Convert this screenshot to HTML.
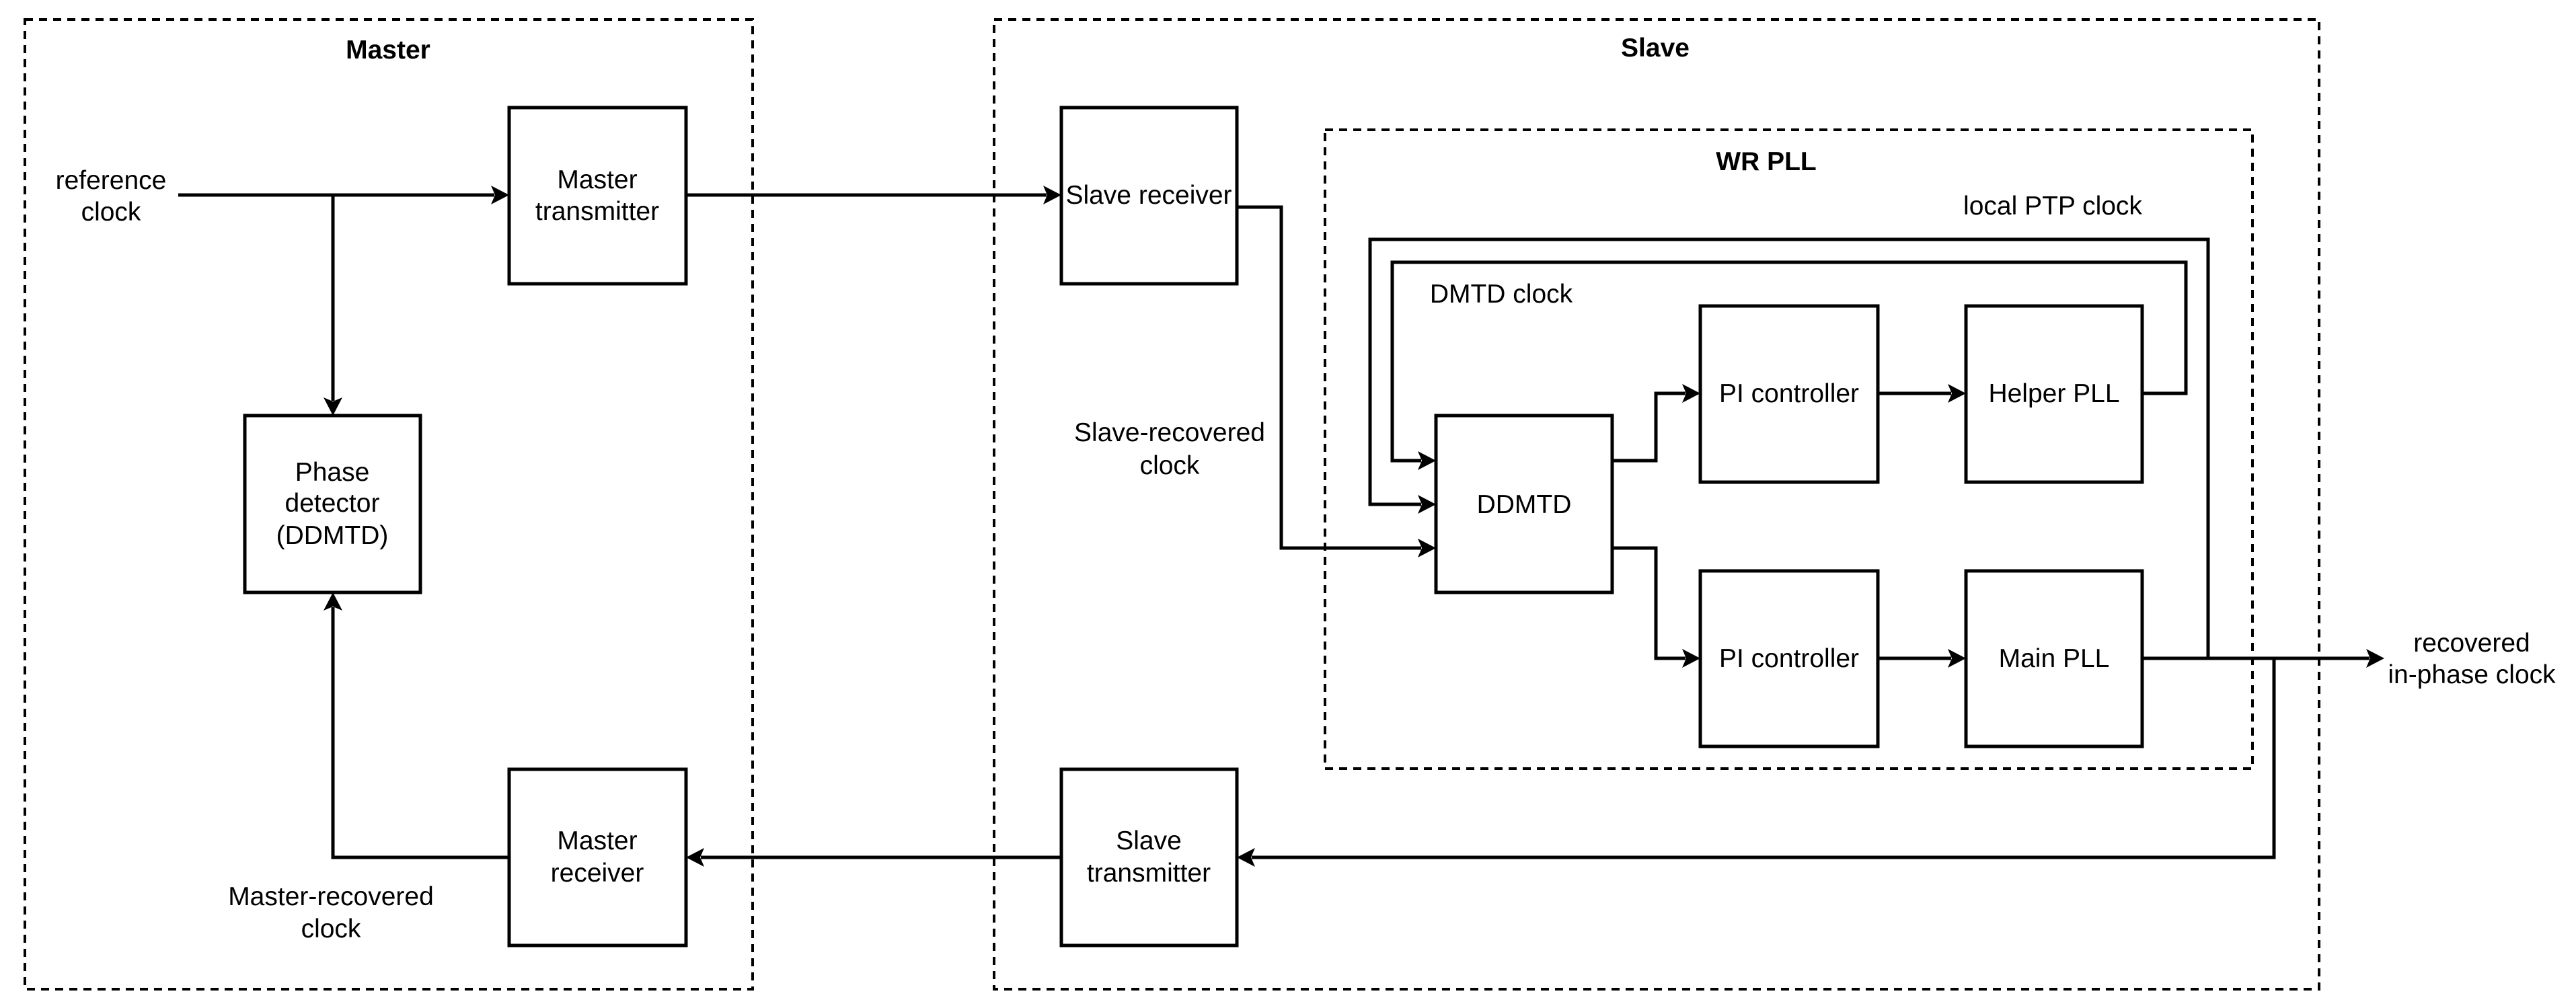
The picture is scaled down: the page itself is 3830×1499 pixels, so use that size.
<!DOCTYPE html>
<html><head><meta charset="utf-8"><style>
html,body{margin:0;padding:0;background:#fff;}
svg{display:block;}
text{font-family:"Liberation Sans",sans-serif;font-size:39px;fill:#000;text-anchor:middle;}
.b{font-weight:bold;}
</style></head><body>
<svg width="3830" height="1499" viewBox="0 0 3830 1499" xmlns="http://www.w3.org/2000/svg">
<g fill="none" stroke="#000" stroke-width="4" stroke-dasharray="12,9">
<rect x="37" y="29" width="1082" height="1442"/>
<rect x="1478" y="29" width="1970" height="1442"/>
<rect x="1970" y="193" width="1379" height="950"/>
</g>
<g fill="none" stroke="#000" stroke-width="5">
<rect x="757" y="160" width="263" height="262"/>
<rect x="364" y="618" width="261" height="263"/>
<rect x="757" y="1144" width="263" height="262"/>
<rect x="1578" y="160" width="261" height="262"/>
<rect x="1578" y="1144" width="261" height="262"/>
<rect x="2135" y="618" width="262" height="263"/>
<rect x="2528" y="455" width="264" height="262"/>
<rect x="2923" y="455" width="262" height="262"/>
<rect x="2528" y="849" width="264" height="261"/>
<rect x="2923" y="849" width="262" height="261"/>
</g>
<g fill="none" stroke="#000" stroke-width="5">
<polyline points="265,290 735,290"/>
<polyline points="495,290 495,596"/>
<polyline points="757,1275 495,1275 495,903"/>
<polyline points="1020,290 1556,290"/>
<polyline points="1839,308 1905,308 1905,815 2113,815"/>
<polyline points="1578,1275 1042,1275"/>
<polyline points="3381,979 3381,1275 1861,1275"/>
<polyline points="3283,979 3283,356 2037,356 2037,750 2113,750"/>
<polyline points="3185,585 3250,585 3250,390 2070,390 2070,685 2113,685"/>
<polyline points="2397,685 2462,685 2462,585 2506,585"/>
<polyline points="2397,815 2462,815 2462,979 2506,979"/>
<polyline points="2792,585 2901,585"/>
<polyline points="2792,979 2901,979"/>
<polyline points="3185,979 3523,979"/>
</g>
<g fill="#000">
<polygon points="757,290 730,276 736,290 730,304"/>
<polygon points="495,618 481,591 495,597 509,591"/>
<polygon points="495,881 481,908 495,902 509,908"/>
<polygon points="1578,290 1551,276 1557,290 1551,304"/>
<polygon points="2135,815 2108,801 2114,815 2108,829"/>
<polygon points="2135,750 2108,736 2114,750 2108,764"/>
<polygon points="2135,685 2108,671 2114,685 2108,699"/>
<polygon points="1020,1275 1047,1261 1041,1275 1047,1289"/>
<polygon points="1839,1275 1866,1261 1860,1275 1866,1289"/>
<polygon points="2528,585 2501,571 2507,585 2501,599"/>
<polygon points="2528,979 2501,965 2507,979 2501,993"/>
<polygon points="2923,585 2896,571 2902,585 2896,599"/>
<polygon points="2923,979 2896,965 2902,979 2896,993"/>
<polygon points="3545,979 3518,965 3524,979 3518,993"/>
</g>
<text class="b" x="577" y="87">Master</text>
<text class="b" x="2461" y="84">Slave</text>
<text class="b" x="2626" y="253">WR PLL</text>
<text x="165" y="281">reference</text>
<text x="165" y="328">clock</text>
<text x="888" y="280">Master</text>
<text x="888" y="327">transmitter</text>
<text x="494" y="715">Phase</text>
<text x="494" y="761">detector</text>
<text x="494" y="809">(DDMTD)</text>
<text x="888" y="1263">Master</text>
<text x="888" y="1311">receiver</text>
<text x="492" y="1346">Master-recovered</text>
<text x="492" y="1394">clock</text>
<text x="1708" y="303">Slave receiver</text>
<text x="1739" y="656">Slave-recovered</text>
<text x="1739" y="705">clock</text>
<text x="1708" y="1263">Slave</text>
<text x="1708" y="1311">transmitter</text>
<text x="3052" y="319">local PTP clock</text>
<text x="2232" y="450">DMTD clock</text>
<text x="2266" y="763">DDMTD</text>
<text x="2660" y="598">PI controller</text>
<text x="3054" y="598">Helper PLL</text>
<text x="2660" y="992">PI controller</text>
<text x="3054" y="992">Main PLL</text>
<text x="3675" y="969">recovered</text>
<text x="3675" y="1016">in-phase clock</text>
</svg>
</body></html>
